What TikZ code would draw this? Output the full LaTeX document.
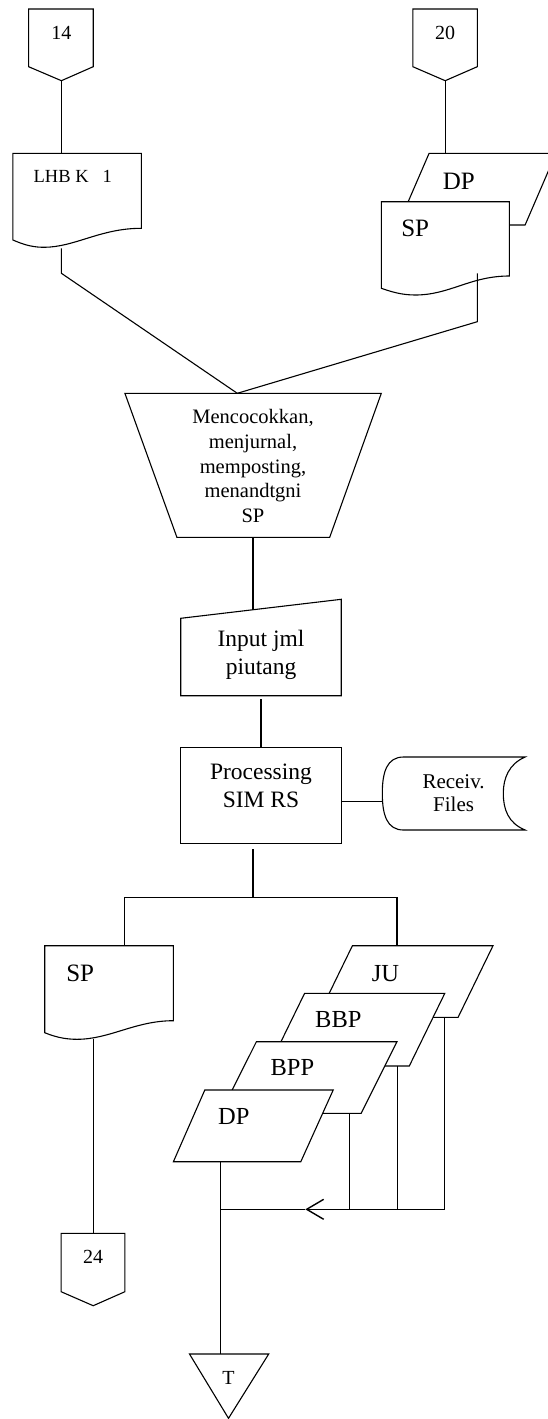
\documentclass[tikz,border=0pt]{standalone}
\usepackage{fontspec}
\setmainfont{Liberation Serif}
\usetikzlibrary{arrows.meta}
\begin{document}
\begin{tikzpicture}[x=1pt,y=-1pt,line width=1.1pt,line join=miter,
  shp/.style={draw,fill=white},
  lbl/.style={inner sep=0pt,align=center},
  fnum/.style={font=\fontsize{20}{24}\selectfont},
  fbig/.style={font=\fontsize{25}{29}\selectfont},
  fmid/.style={font=\fontsize{23.5}{28}\selectfont},
  link/.style={draw}]
\useasboundingbox (0,0) rectangle (547,1419);

% ---------- off-page connector 14 ----------
\draw[shp] (28.6,9) -- (93.2,9) -- (93.2,66.7) -- (61.4,80.7) -- (28.6,66.7) -- cycle;
\node[lbl,fnum] (c14) at (61.4,33.3) {14};
\coordinate (c14b) at (61.4,80.7);

% ---------- document LHB K 1 ----------
\draw[shp] (12.9,240) -- (12.9,153.3) -- (141.3,153.3) -- (141.3,228.3)
  .. controls (100,228.3) and (75,247.3) .. (43.6,247.3)
  .. controls (30,247.3) and (20,243) .. cycle;
\node[lbl,anchor=west,font=\fontsize{18.5}{22}\selectfont] (lhb) at (33.1,176.7) {LHB K\hspace{0.75em}1};
\coordinate (lhbt) at (61.4,153.3);
\coordinate (lhbb) at (61.4,248.3);
\coordinate (lhbk) at (61.4,273.3);

% ---------- off-page connector 20 ----------
\draw[shp] (412.8,9) -- (477.3,9) -- (477.3,66.7) -- (445.2,80.7) -- (412.8,66.7) -- cycle;
\node[lbl,fnum] (c20) at (445.2,33.3) {20};
\coordinate (c20b) at (445.2,80.7);

% ---------- DP (input) behind SP ----------
\draw[shp] (429.1,153.3) -- (556,153.3) -- (525.1,225) -- (398.1,225) -- cycle;
\node[lbl,fbig] (dp1) at (458.8,181.7) {DP};
\coordinate (dp1t) at (445.2,153.3);

% ---------- document SP (top) ----------
\draw[shp] (381.3,288.3) -- (381.3,201.7) -- (509.4,201.7) -- (509.4,276)
  .. controls (470,276) and (450,295) .. (415.2,295)
  .. controls (402,295) and (392,292) .. cycle;
\node[lbl,fbig] (sp1) at (415.2,228.3) {SP};
\coordinate (sp1b) at (477.3,273.3);
\coordinate (sp1k) at (477.3,321.7);

% ---------- manual process (trapezoid) ----------
\draw[shp] (124.9,393.3) -- (381.3,393.3) -- (329.7,537.3) -- (176.9,537.3) -- cycle;
\node[lbl,font=\fontsize{20.5}{24.7}\selectfont] (match) at (253,466.2)
  {Mencocokkan,\\menjurnal,\\memposting,\\menandtgni\\SP};
\coordinate (matcht) at (237.3,393.3);
\coordinate (matchb) at (253,537.3);

% ---------- manual input ----------
\draw[shp] (180.7,618.3) -- (341.2,599.3) -- (341.2,695.7) -- (180.7,695.7) -- cycle;
\node[lbl,fmid] (inp) at (261,654.5) {Input jml\\piutang};
\coordinate (inpt) at (253,609.6);
\coordinate (inpb) at (261,699.3);

% ---------- process ----------
\draw[shp] (180.7,747.3) rectangle (341.2,843.3);
\node[lbl,fmid] (proc) at (261,785.9) {Processing\\SIM RS};
\coordinate (proct) at (261,747.3);
\coordinate (procr) at (341.2,801.2);
\coordinate (procb) at (253,849.3);

% ---------- stored data ----------
\draw[shp] (403.5,757) -- (525.1,757)
  .. controls (509,764) and (503.3,778) .. (503.3,793.3)
  .. controls (503.3,809) and (508,823) .. (525.1,830)
  -- (403.5,830)
  .. controls (387,830) and (382.3,815) .. (382.3,793.3)
  .. controls (382.3,772) and (387,757) .. cycle;
\node[lbl,font=\fontsize{21}{23.3}\selectfont] (recv) at (453.6,793.3) {Receiv.\\Files};
\coordinate (recvl) at (382.3,801.2);

% ---------- split ----------
\coordinate (split) at (253,897.7);
\coordinate (splitl) at (124.9,897.7);
\coordinate (splitr) at (397,897.7);

% ---------- document SP (bottom) ----------
\draw[shp] (44.7,1032.7) -- (44.7,945.7) -- (173.4,945.7) -- (173.4,1020.7)
  .. controls (135,1020.7) and (110,1039.3) .. (76.8,1039.3)
  .. controls (63,1039.3) and (53,1036) .. cycle;
\node[lbl,fbig] (sp2) at (80.2,973.3) {SP};
\coordinate (sp2t) at (124.9,945.7);
\coordinate (sp2b) at (93.2,1038.5);

% ---------- off-page connector 24 ----------
\draw[shp] (61.1,1233.3) -- (124.9,1233.3) -- (124.9,1291.7) -- (93.2,1305.7) -- (61.1,1291.7) -- cycle;
\node[lbl,fnum] (c24) at (93.2,1256.7) {24};
\coordinate (c24t) at (93.2,1233.3);

% ---------- stacked input forms ----------
\draw[shp] (352.4,945.7) -- (493,945.7) -- (458.1,1017.3) -- (317.5,1017.3) -- cycle;
\node[lbl,font=\fontsize{24.5}{28}\selectfont] (ju) at (385.5,973.3) {JU};
\coordinate (jut) at (397,945.7);
\coordinate (jub) at (444.8,1017.3);

\draw[shp] (304.6,993.3) -- (444.8,993.3) -- (409.3,1066) -- (269.1,1066) -- cycle;
\node[lbl,font=\fontsize{24.5}{28}\selectfont] (bbp) at (338.4,1019.3) {BBP};
\coordinate (bbpb) at (397.7,1066);

\draw[shp] (256.4,1041.7) -- (397,1041.7) -- (361.1,1113.3) -- (220.5,1113.3) -- cycle;
\node[lbl,font=\fontsize{24.5}{28}\selectfont] (bpp) at (292.4,1067.3) {BPP};
\coordinate (bppb) at (349.6,1113.3);

\draw[shp] (204.8,1090) -- (333.2,1090) -- (300.8,1161.7) -- (173.4,1161.7) -- cycle;
\node[lbl,font=\fontsize{24.5}{28}\selectfont] (dp2) at (233.8,1116.7) {DP};
\coordinate (dp2b) at (220.9,1161.7);

% ---------- merge lines ----------
\coordinate (jucorner) at (444.8,1209.3);
\coordinate (bbpj) at (397.7,1209.3);
\coordinate (bppj) at (349.6,1209.3);
\coordinate (arr) at (305.3,1209.3);
\coordinate (jn) at (220.9,1209.3);

% ---------- file T ----------
\draw[shp] (189.5,1354) -- (268.7,1354) -- (228.5,1418.3) -- cycle;
\node[lbl,fnum] (tfile) at (228.5,1378.3) {T};
\coordinate (tt) at (220.9,1354);

% ---------- connectors ----------
\draw[link] (c14b) -- (lhbt);
\draw[link] (c20b) -- (dp1t);
\draw[link] (lhbb) -- (lhbk) -- (matcht);
\draw[link] (sp1b) -- (sp1k) -- (matcht);
\draw[link] (matchb) -- (inpt);
\draw[link] (inpb) -- (proct);
\draw[link] (procr) -- (recvl);
\draw[link] (procb) -- (split);
\draw[link] (sp2t) -- (splitl) -- (splitr) -- (jut);
\draw[link] (sp2b) -- (c24t);
\draw[link] (jub) -- (jucorner);
\draw[link] (bbpb) -- (bbpj);
\draw[link] (bppb) -- (bppj);
\draw[link,-{Straight Barb[length=17pt,width=20pt,line width=1.4pt]}] (jucorner) -- (arr);
\draw[link] (arr) -- (jn);
\draw[link] (dp2b) -- (tt);
\end{tikzpicture}
\end{document}
